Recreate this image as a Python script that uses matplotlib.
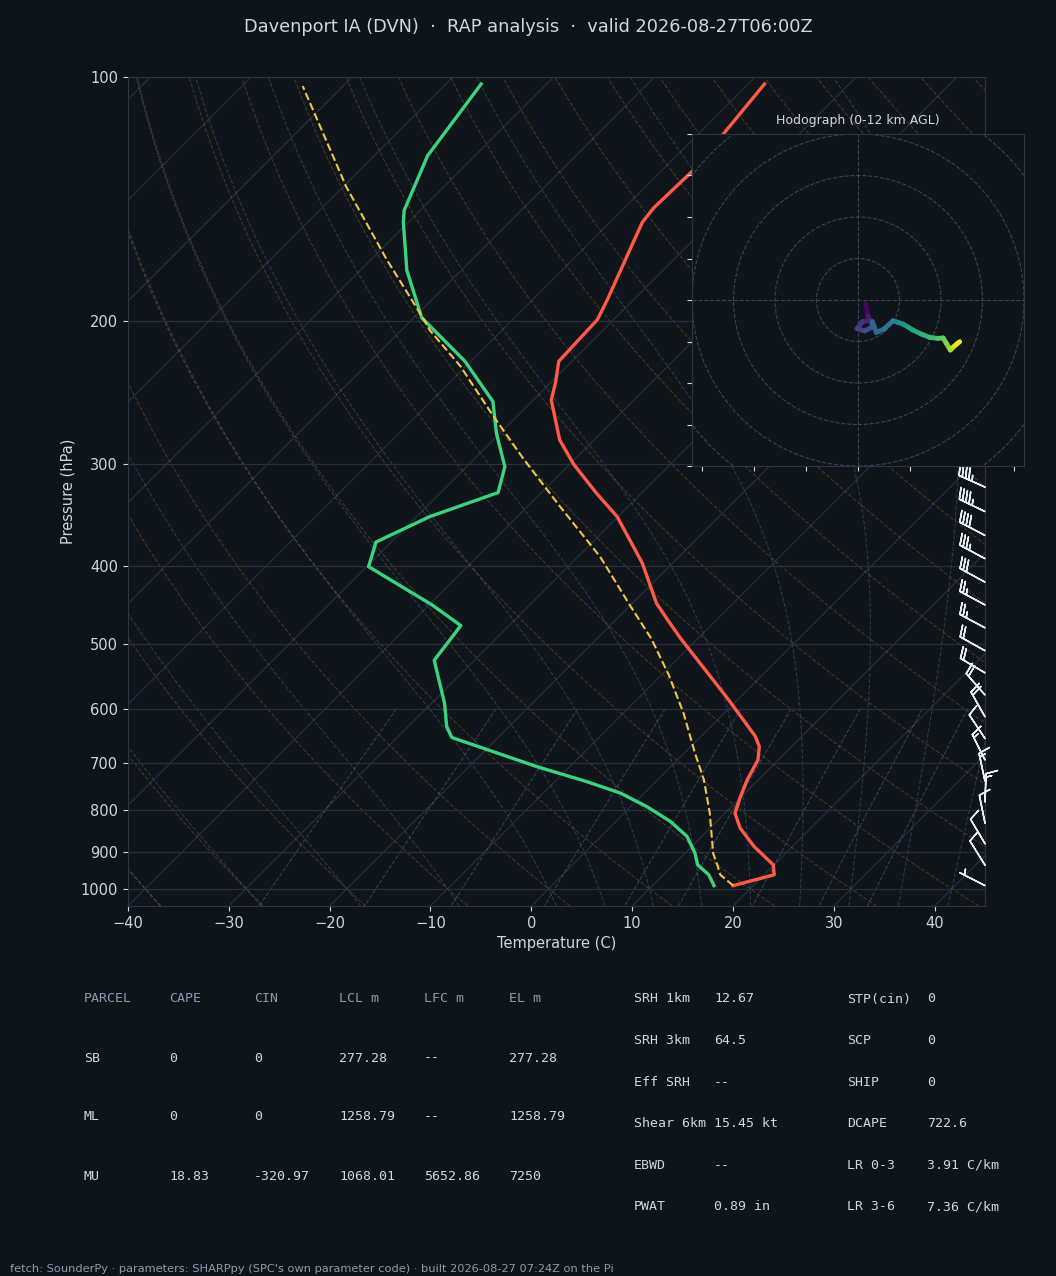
import numpy as np
import matplotlib
matplotlib.use('Agg')
import matplotlib.pyplot as plt
from matplotlib.collections import LineCollection
from matplotlib.patches import Circle

BG = '#0f141a'
AX_BG = '#10151c'
GRID = '#27303c'
SPINE = '#2d3846'
TXT = '#d0d7de'
MUTED = '#8b9bb0'
RED = '#ff5a48'
GREEN = '#3ad47f'
YEL = '#f5c542'

# ---- sounding (hPa, degC) ----
p_env = [991, 961, 934, 887, 842, 807, 770, 734, 694, 668, 649, 582, 491, 466,
         445, 397, 348, 326, 300, 280, 250, 238, 224, 199, 188, 151, 145, 130, 102]
t_env = [18.0, 21.0, 19.9, 16.2, 13.0, 11.0, 9.9, 8.9, 8.0, 6.8, 5.4, -1.2, -11.8, -14.9,
         -17.6, -23.0, -30.1, -34.4, -39.6, -43.4, -48.2, -49.5, -51.3, -51.6, -52.6, -56.8,
         -57.1, -56.9, -58.4]

p_dew = [991, 961, 934, 904, 862, 826, 792, 762, 738, 707, 651, 631, 591, 523, 474,
         447, 401, 374, 348, 325, 302, 275, 251, 224, 198, 173, 151, 146, 125, 102]
td_env = [16.1, 14.5, 12.4, 11.0, 8.55, 5.4, 1.6, -2.4, -6.8, -13.3, -24.6, -26.2, -28.7,
          -34.0, -34.8, -39.7, -49.8, -51.5, -48.7, -44.3, -46.2, -50.3, -53.85, -60.6,
          -69.2, -75.4, -80.5, -81.6, -84.7, -86.5]

p_parcel = [991, 961, 937, 904, 807, 734, 681, 608, 545, 492, 447, 390, 338, 296, 261,
            227, 205, 199, 168, 136.5, 102.6]
t_parcel = [18.0, 15.65, 14.5, 12.8, 8.5, 4.6, 1.1, -4.0, -9.3, -14.6, -20.1, -27.8, -36.8,
            -45.0, -52.5, -60.6, -67.2, -68.8, -78.4, -89.7, -104.0]

# ---- winds every 500 m AGL (kt) ----
z_wind = [0.0, 0.5, 1.0, 1.5, 2.0, 2.5, 3.0, 3.5, 4.0, 4.5, 5.0, 5.5, 6.0, 6.5, 7.0, 7.5,
          8.0, 8.5, 9.0, 9.5, 10.0, 10.5, 11.0, 11.5, 12.0, 13.0]
p_wind = [991, 935, 880, 830, 782, 737, 694, 653, 614, 577, 542, 509, 477, 447, 419, 392,
          367, 343, 320, 299, 279, 260, 242, 225, 209, 180]
u_wind = [3.7, 4.8, 5.9, 2.1, -0.5, 3.2, 6.6, 6.9, 8.8, 12.4, 16.9, 19.3, 21.7, 24.1, 26.5,
          30.5, 34.5, 38.6, 41.0, 42.6, 44.5, 45.3, 46.1, 47.5, 49.0, 48.0]
v_wind = [-1.9, -7.7, -10.0, -10.4, -13.8, -14.9, -13.2, -10.4, -15.6, -14.1, -10.0, -10.8,
          -11.6, -13.0, -14.5, -16.4, -18.0, -18.5, -18.3, -20.9, -24.1, -23.3, -22.5, -21.3,
          -20.1, -18.0]

# ---- parameter tables ----
headers = ['PARCEL', 'CAPE', 'CIN', 'LCL m', 'LFC m', 'EL m']
parcels = ['SB', 'ML', 'MU']
cape = ['0', '0', '18.83']
cin = ['0', '0', '-320.97']
lcl = ['277.28', '1258.79', '1068.01']
lfc = ['--', '--', '5652.86']
el = ['277.28', '1258.79', '7250']

kin_labels = ['SRH 1km', 'SRH 3km', 'Eff SRH', 'Shear 6km', 'EBWD', 'PWAT']
kin_values = ['12.67', '64.5', '--', '15.45 kt', '--', '0.89 in']
thermo_labels = ['STP(cin)', 'SCP', 'SHIP', 'DCAPE', 'LR 0-3', 'LR 3-6']
thermo_values = ['0', '0', '0', '722.6', '3.91 C/km', '7.36 C/km']

W, H = 1056, 1276
fig = plt.figure(figsize=(W / 100, H / 100), dpi=100, facecolor=BG)


def fx(x):
    return x / W


def fy(y):
    return 1 - y / H


rect = [fx(128), fy(906), 857 / W, 829 / H]
ax = fig.add_axes(rect, facecolor=AX_BG)
XMIN, XMAX = -40, 45
PBOT, PTOP = 1050, 100
# 45 degree skew in display space
skew_k = (rect[3] * H) / (rect[2] * W) * (XMAX - XMIN) / np.log(PBOT / PTOP)


def skew(t, p):
    return np.asarray(t, float) + skew_k * np.log(PBOT / np.asarray(p, float))


# isotherms
for t0 in np.arange(-130, 50, 10):
    ax.plot(skew([t0, t0], [PBOT, PTOP]), [PBOT, PTOP], color=GRID, lw=0.9, zorder=1)

pp = np.geomspace(PBOT, PTOP, 150)
# dry adiabats
for t0 in np.arange(-40, 246, 10):
    t = (t0 + 273.15) * (pp / 1000.0) ** 0.2857 - 273.15
    ax.plot(skew(t, pp), pp, color='#b8893a', lw=0.8, ls='--', alpha=0.3, zorder=1)


# moist adiabats
def dtdp(t, p):
    es = 6.112 * np.exp(17.67 * (t - 273.15) / (t - 29.65))
    rs = 0.622 * es / (p - es)
    return (287.04 * t + 2.501e6 * rs) / (p * (1005.7 + 2.501e6 ** 2 * rs * 0.622 / (287.04 * t * t)))


def integrate(t0, pgrid):
    out = [t0]
    t = t0.copy()
    for p1, p2 in zip(pgrid[:-1], pgrid[1:]):
        h = p2 - p1
        k1 = dtdp(t, p1)
        k2 = dtdp(t + 0.5 * h * k1, p1 + 0.5 * h)
        k3 = dtdp(t + 0.5 * h * k2, p1 + 0.5 * h)
        k4 = dtdp(t + h * k3, p2)
        t = t + h / 6 * (k1 + 2 * k2 + 2 * k3 + k4)
        out.append(t)
    return np.array(out)


t0m = np.concatenate((np.arange(-40, 0, 10), np.arange(0, 96, 5))) + 273.15
p_up = np.linspace(1000, PTOP, 181)
p_dn = np.linspace(1000, PBOT, 11)
tm = np.vstack((integrate(t0m, p_dn)[::-1], integrate(t0m, p_up)[1:]))
pm = np.concatenate((p_dn[::-1], p_up[1:]))
for i in range(len(t0m)):
    ax.plot(skew(tm[:, i] - 273.15, pm), pm, color='#5f87a8', lw=0.8, ls='--', alpha=0.33, zorder=1)

# mixing ratio lines
pw = np.linspace(600, PBOT, 40)
for w in [0.0004, 0.001, 0.002, 0.004, 0.007, 0.01, 0.016, 0.024, 0.032]:
    e = pw * w / (0.622 + w)
    a = np.log(e / 6.112)
    td = 243.5 * a / (17.67 - a)
    ax.plot(skew(td, pw), pw, color='#5f87a8', lw=0.8, ls='--', alpha=0.4, zorder=1)

# profiles
ax.plot(skew(t_env, p_env), p_env, color=RED, lw=2.4, zorder=5)
ax.plot(skew(td_env, p_dew), p_dew, color=GREEN, lw=2.4, zorder=5)
ax.plot(skew(t_parcel, p_parcel), p_parcel, color=YEL, lw=1.5, ls='--', zorder=5)

ax.barbs(np.full(len(p_wind), XMAX), p_wind, u_wind, v_wind, length=6.4,
         color='#e6edf3', linewidth=1.1, clip_on=False, zorder=6)

ptick = [100, 200, 300, 400, 500, 600, 700, 800, 900, 1000]
ax.set_yscale('log')
ax.set_ylim(PBOT, PTOP)
ax.set_xlim(XMIN, XMAX)
ax.set_yticks(ptick, labels=[str(p) for p in ptick])
ax.yaxis.set_minor_locator(plt.NullLocator())
ax.set_xticks(np.arange(-40, 41, 10))
ax.yaxis.grid(True, color=GRID, lw=0.9)
ax.tick_params(colors=TXT, labelsize=10.5)
for s in ax.spines.values():
    s.set_color(SPINE)
ax.set_ylabel('Pressure (hPa)', color=TXT, fontsize=10.5)
ax.set_xlabel('Temperature (C)', color=TXT, fontsize=10.5)

# hodograph inset
hax = fig.add_axes([fx(692), fy(466), 332 / W, 332 / H], facecolor=AX_BG, zorder=10)
hax.set_xlim(-80, 80)
hax.set_ylim(-80, 80)
for r in range(20, 161, 20):
    hax.add_patch(Circle((0, 0), r, fill=False, ls='--', ec='#3a4656', lw=0.8))
hax.axhline(0, color='#3a4656', ls='--', lw=0.8)
hax.axvline(0, color='#3a4656', ls='--', lw=0.8)
zw = np.array(z_wind)
keep = zw <= 12
pts = np.column_stack((np.array(u_wind)[keep], np.array(v_wind)[keep]))
segs = np.stack((pts[:-1], pts[1:]), axis=1)
lc = LineCollection(segs, cmap='viridis', norm=plt.Normalize(0, 12), lw=3.5, capstyle='round')
lc.set_array(0.5 * (zw[keep][:-1] + zw[keep][1:]))
hax.add_collection(lc)
hax.set_xticks(np.arange(-75, 76, 25))
hax.set_yticks(np.arange(-80, 81, 20))
hax.set_xticklabels([])
hax.set_yticklabels([])
hax.tick_params(colors=TXT)
for s in hax.spines.values():
    s.set_color(SPINE)
hax.set_title('Hodograph (0-12 km AGL)', color=TXT, fontsize=9, pad=7)

# title and footer
fig.text(0.5, fy(27), 'Davenport IA (DVN)  \u00b7  RAP analysis  \u00b7  valid 2026-08-27T06:00Z',
         ha='center', va='center', color=TXT, fontsize=12.8)
fig.text(fx(10), fy(1269), "fetch: SounderPy \u00b7 parameters: SHARPpy (SPC's own parameter code) "
         "\u00b7 built 2026-08-27 07:24Z on the Pi", ha='left', va='center', color=MUTED, fontsize=8.2)

# parcel table
mono = 'DejaVu Sans Mono'
cols = [84, 169, 254, 339, 424, 509]
for x, h in zip(cols, headers):
    fig.text(fx(x), fy(999), h, family=mono, fontsize=9.5, color=MUTED, va='center')
for i, row in enumerate(zip(parcels, cape, cin, lcl, lfc, el)):
    for x, val in zip(cols, row):
        fig.text(fx(x), fy(1058 + 59 * i), val, family=mono, fontsize=9.5, color=TXT, va='center')

for i in range(len(kin_labels)):
    y = fy(999 + 41.6 * i)
    fig.text(fx(634), y, kin_labels[i], family=mono, fontsize=9.5, color=TXT, va='center')
    fig.text(fx(714), y, kin_values[i], family=mono, fontsize=9.5, color=TXT, va='center')
    fig.text(fx(847), y, thermo_labels[i], family=mono, fontsize=9.5, color=TXT, va='center')
    fig.text(fx(927), y, thermo_values[i], family=mono, fontsize=9.5, color=TXT, va='center')

fig.savefig('out.png', dpi=100, facecolor=BG)
